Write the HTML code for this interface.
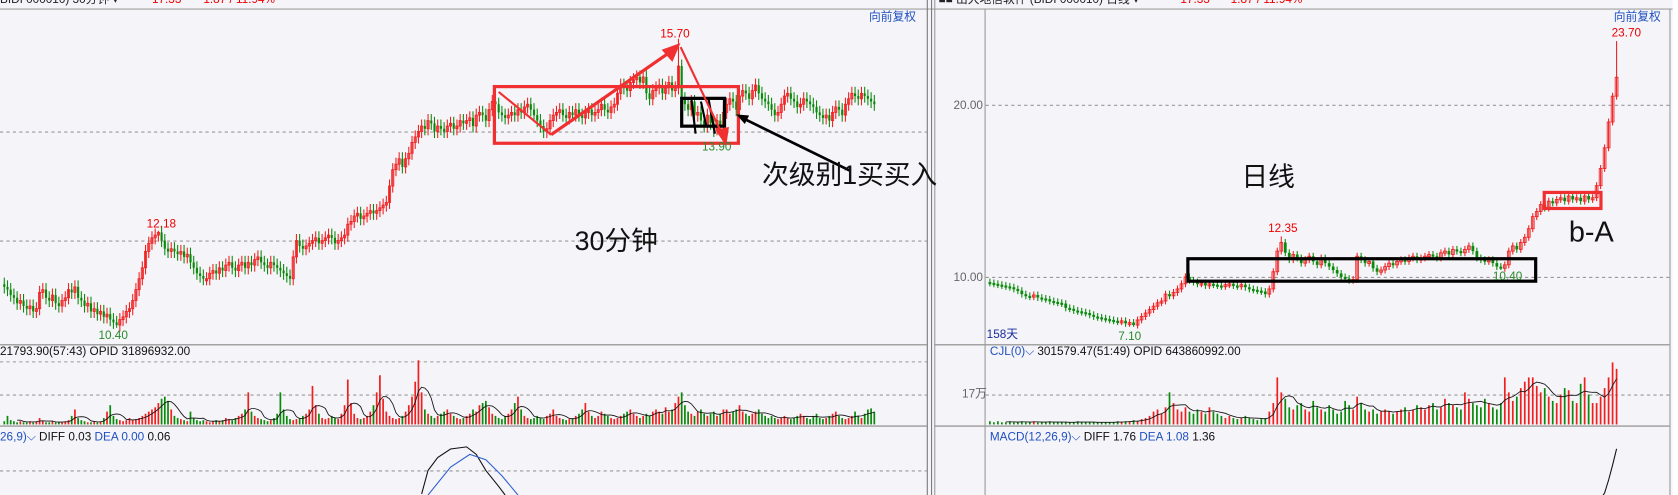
<!DOCTYPE html>
<html><head><meta charset="utf-8"><style>
html,body{margin:0;padding:0;background:#f4f4f9;}
svg{display:block;font-family:"Liberation Sans","Noto Sans CJK SC",sans-serif;}
</style></head><body>
<svg id="c" width="1678" height="495" viewBox="0 0 1568 463" preserveAspectRatio="none" xmlns="http://www.w3.org/2000/svg">
<rect x="0" y="0" width="1568" height="463" fill="#f4f4f9"/>
<g id="frame">
<line x1="0" y1="8.5" x2="1565" y2="8.5" stroke="#a0a0a0"/>
<line x1="0" y1="322.5" x2="866" y2="322.5" stroke="#888"/>
<line x1="0" y1="398.5" x2="866" y2="398.5" stroke="#888"/>
<line x1="873" y1="322.5" x2="1560" y2="322.5" stroke="#888"/>
<line x1="873" y1="398.5" x2="1560" y2="398.5" stroke="#888"/>
<line x1="866.5" y1="0" x2="866.5" y2="463" stroke="#777"/>
<line x1="870.5" y1="0" x2="870.5" y2="463" stroke="#777"/>
<line x1="873.5" y1="0" x2="873.5" y2="463" stroke="#999"/>
<line x1="920.5" y1="8" x2="920.5" y2="463" stroke="#999"/>
<line x1="1560.5" y1="8" x2="1560.5" y2="463" stroke="#999"/>
<rect x="1563" y="0" width="10" height="463" fill="#ffffff"/>
<g stroke="#999" stroke-dasharray="3,3">
<line x1="0" y1="123.5" x2="866" y2="123.5"/><line x1="0" y1="225.5" x2="866" y2="225.5"/>
<line x1="0" y1="338.5" x2="866" y2="338.5"/><line x1="0" y1="369.5" x2="866" y2="369.5"/>
<line x1="0" y1="440.5" x2="866" y2="440.5"/>
<line x1="921" y1="98.5" x2="1560" y2="98.5"/><line x1="921" y1="259.5" x2="1560" y2="259.5"/>
<line x1="921" y1="369.5" x2="1560" y2="369.5"/>
</g>
</g>
<g font-size="11">
<text x="0" y="3" fill="#222">BIDI 000010)  30分钟 ▾</text>
<text x="142" y="3" fill="#e00">17.33</text>
<text x="190" y="3" fill="#e00">1.87 / 11.94%</text>
<text x="877" y="3" fill="#222">■■ 出大地信软件  (BIDI 000010)  日线 ▾</text>
<text x="1103" y="3" fill="#e00">17.33</text>
<text x="1150" y="3" fill="#e00">1.87 / 11.94%</text>
<text x="812" y="19" fill="#2050c0">向前复权</text>
<text x="1508" y="19" fill="#2050c0">向前复权</text>
<text x="891" y="102" fill="#666">20.00</text>
<text x="891" y="263" fill="#666">10.00</text>
<text x="899" y="372" fill="#666">17万</text>
<text x="922" y="316" fill="#1a2a9a">158天</text>
<text x="0" y="332" fill="#111">21793.90(57:43)  OPID 31896932.00</text>
<text x="925" y="332" fill="#111"><tspan fill="#2050c0">CJL(0)⌵</tspan> 301579.47(51:49)  OPID 643860992.00</text>
<text x="0" y="412" fill="#111"><tspan fill="#2050c0">26,9)⌵</tspan>  DIFF 0.03  <tspan fill="#2050c0">DEA 0.00</tspan>   0.06</text>
<text x="925" y="412" fill="#111"><tspan fill="#2050c0">MACD(12,26,9)⌵</tspan>  DIFF 1.76  <tspan fill="#2050c0">DEA 1.08</tspan>   1.36</text>
</g>
<g id="left-candles"></g>
<g id="right-candles"></g>
<g id="ann">
<rect x="462" y="81" width="228" height="53" fill="none" stroke="#f03030" stroke-width="3"/>
<rect x="637" y="92" width="40" height="26" fill="none" stroke="#000" stroke-width="3"/>
<g stroke="#000" stroke-width="2" fill="none"><path d="M646 92 L650 125 M655 95 L660 118 M662 92 L668 125"/></g>
<g stroke="#f03030" stroke-width="2" fill="#f03030">
<line x1="466" y1="86" x2="515" y2="126"/>
<line x1="515" y1="126" x2="630" y2="46" stroke-width="3"/>
<polygon points="634,42 620,47 628,56"/>
<line x1="636" y1="44" x2="676" y2="128"/>
<polygon points="678,134 670,122 680,120"/>
</g>
<line x1="795" y1="160" x2="693" y2="110" stroke="#000" stroke-width="2.5"/>
<polygon points="688,107 700,108 696,116" fill="#000"/>
<rect x="1110" y="242" width="325" height="21" fill="none" stroke="#000" stroke-width="3"/>
<rect x="1443" y="180" width="53" height="15" fill="none" stroke="#f03030" stroke-width="3"/>
<text x="712" y="172" font-size="25" fill="#111">次级别1买买入</text>
<text x="537" y="234" font-size="25" fill="#111">30分钟</text>
<text x="1160" y="174" font-size="25" fill="#111">日线</text>
<text x="1466" y="226" font-size="27" fill="#111">b-A</text>
</g>
<g font-size="11">
<text x="617" y="35" fill="#e00">15.70</text>
<text x="137" y="213" fill="#e00">12.18</text>
<text x="92" y="317" fill="#2a8a2a">10.40</text>
<text x="656" y="141" fill="#2a8a2a">13.90</text>
<text x="1506" y="34" fill="#e00">23.70</text>
<text x="1185" y="217" fill="#e00">12.35</text>
<text x="1045" y="318" fill="#2a8a2a">7.10</text>
<text x="1395" y="262" fill="#2a8a2a">10.40</text>
</g>
</svg>
<script>
const leftCloses = [
11.15,11.1,11.0,10.95,10.85,10.9,10.8,10.75,10.8,10.7,
10.75,11.05,11.1,10.95,10.9,11.0,10.85,10.8,10.9,10.95,
11.1,11.05,11.15,10.95,10.9,10.8,10.85,10.7,10.75,10.65,
10.7,10.6,10.65,10.55,10.5,10.45,10.55,10.6,10.7,10.75,
10.9,11.1,11.3,11.5,11.8,11.95,12.05,12.1,12.15,12.0,
11.85,11.8,11.85,11.8,11.75,11.8,11.7,11.75,11.6,11.5,
11.4,11.35,11.3,11.3,11.4,11.45,11.4,11.5,11.45,11.55,
11.6,11.5,11.45,11.55,11.6,11.5,11.6,11.55,11.65,11.7,
11.6,11.55,11.5,11.6,11.55,11.5,11.45,11.4,11.35,11.3,
11.7,12.0,11.9,11.85,11.9,11.95,12.0,12.05,11.95,12.0,
12.05,12.1,12.05,11.95,12.0,12.05,12.1,12.3,12.35,12.45,
12.5,12.4,12.45,12.5,12.55,12.5,12.55,12.6,12.65,12.7,
13.0,13.3,13.4,13.5,13.35,13.5,13.6,13.8,13.9,14.0,
14.1,14.05,14.2,14.15,14.0,14.1,14.05,14.0,14.1,14.15,
14.05,14.1,14.2,14.15,14.2,14.25,14.1,14.3,14.35,14.3,
14.2,14.4,14.55,14.5,14.35,14.3,14.25,14.3,14.35,14.3,
14.4,14.35,14.45,14.5,14.4,14.3,14.2,14.1,14.0,14.05,
14.2,14.3,14.35,14.4,14.3,14.25,14.35,14.3,14.4,14.3,
14.25,14.35,14.4,14.3,14.35,14.4,14.5,14.4,14.35,14.45,
14.5,14.7,14.85,14.8,14.75,14.9,14.95,15.0,14.9,15.0,
14.7,14.6,14.75,14.8,14.85,14.7,14.8,14.9,14.75,14.8,
15.2,14.6,14.5,14.4,14.55,14.3,14.35,14.2,14.1,14.3,
14.15,14.05,14.2,14.1,14.35,14.5,14.6,14.55,14.4,14.65,
14.75,14.7,14.6,14.75,14.85,14.7,14.6,14.55,14.5,14.4,
14.3,14.35,14.5,14.65,14.7,14.6,14.55,14.45,14.5,14.6,
14.55,14.5,14.45,14.35,14.3,14.25,14.3,14.2,14.35,14.45,
14.4,14.3,14.5,14.6,14.7,14.65,14.6,14.7,14.65,14.6,
14.55,14.5];
const leftVolumes = [
3,8,4,3,2,3,2,2,3,2, 3,6,3,2,2,3,2,2,2,3, 4,8,14,6,4,3,2,2,3,2, 3,6,12,18,8,5,4,3,4,6,
4,5,6,8,10,12,14,16,20,24, 26,22,14,8,6,5,4,3,12,6, 4,3,4,3,2,3,4,3,4,6, 5,4,6,8,10,14,30,12,8,6,
5,4,3,4,6,10,30,14,8,5, 4,5,6,8,10,14,36,18,10,6, 5,6,8,6,5,10,18,42,20,10, 6,5,6,8,12,18,30,46,24,12,
8,6,5,6,8,12,18,26,40,60, 30,14,10,8,6,8,10,12,14,10, 8,6,5,6,8,10,14,12,18,20, 22,16,10,8,6,5,8,10,14,20,
26,14,8,6,5,6,8,6,5,8, 10,14,8,6,5,4,5,6,8,10, 14,20,12,8,6,8,12,10,8,6, 5,6,8,10,12,14,10,8,6,8,
10,8,12,14,12,10,16,12,14,20, 26,30,18,12,10,8,12,14,10,8, 10,12,8,10,14,14,10,12,14,18, 12,10,8,10,12,14,10,8,6,8,
6,5,6,8,6,5,6,8,10,8, 6,5,8,10,6,5,6,8,10,12, 8,6,5,6,8,12,8,6,10,14, 15,12];
const leftExtremeIdx = [210, 35, 48, 221];
const leftExtremeVal = [15.70, 10.40, 12.18, 13.90];
const leftMacdIdx = [130,132,135,139,144,147,150,154,156];
const leftMacdDiff = [-2.2,0,1.2,2.0,2.2,1.5,0,-1.5,-2.3];
const leftMacdDeaIdx = [132,139,145,150,155,160];
const leftMacdDea = [-2.3,0.3,1.5,1.0,-0.5,-2.3];

const rightCloses = [
9.65,9.6,9.55,9.5,9.45,9.4,9.3,9.2,9.0,8.9,
8.85,8.95,8.8,8.75,8.7,8.6,8.55,8.5,8.45,8.2,
8.15,8.05,8.0,7.95,7.9,7.8,7.7,7.65,7.6,7.55,
7.5,7.45,7.4,7.45,7.3,7.35,7.2,7.5,7.7,7.9,
8.1,8.3,8.5,8.6,9.0,8.9,9.1,9.3,9.6,10.0,
9.8,9.7,9.6,9.65,9.5,9.6,9.55,9.5,9.45,9.55,
9.6,9.5,9.45,9.55,9.4,9.3,9.25,9.2,9.15,9.0,
9.3,10.3,11.5,12.0,11.4,11.0,11.3,11.1,10.8,11.0,
11.2,10.9,10.7,11.1,10.8,10.6,10.4,10.2,10.0,9.9,
9.8,9.85,11.2,11.0,10.8,10.9,10.5,10.3,10.4,10.6,
10.8,10.7,10.9,11.0,10.9,11.1,11.2,11.0,11.1,11.2,
11.3,11.2,11.1,11.4,11.5,11.3,11.6,11.5,11.4,11.6,
11.8,11.5,11.1,11.0,10.9,11.0,10.8,10.6,10.5,10.7,
11.5,11.8,11.6,12.0,12.3,12.8,13.5,13.8,14.2,14.0,
14.4,14.3,14.5,14.6,14.4,14.7,14.5,14.6,14.4,14.7,
14.5,14.6,15.3,16.3,17.5,19.0,20.5,21.6];
const rightVolumes = [
3,2,3,2,2,3,2,2,3,2, 2,3,2,2,2,3,2,2,2,2, 2,2,3,2,2,2,2,2,2,2, 2,2,3,2,3,3,4,3,5,6,
8,12,14,10,16,30,20,14,12,16, 12,10,14,12,10,16,12,10,8,6, 8,6,5,6,8,6,5,4,5,6, 12,20,44,30,24,16,14,18,20,14,
12,22,16,14,12,18,14,10,12,22, 18,14,26,20,14,12,14,10,12,14, 12,10,12,14,16,12,14,18,16,14, 18,20,14,16,24,20,18,16,14,30,
24,20,18,16,24,20,16,14,20,44, 30,22,26,34,40,44,44,36,30,34, 26,22,20,28,34,32,22,20,38,44, 28,20,20,26,34,44,58,52];
const rightExtremeIdx = [157, 36, 73, 128];
const rightExtremeVal = [23.70, 7.10, 12.35, 10.40];
const rightMacdIdx = [153,154,155,156,157];
const rightMacdDiff = [-0.6,-0.3,0.3,1.0,1.76];

const NS = "http://www.w3.org/2000/svg";
function mk(tag, attrs, parent){ const e=document.createElementNS(NS,tag); for(const k in attrs) e.setAttribute(k,attrs[k]); parent.appendChild(e); return e; }
const xL = i => 4 + i*3;
const yL = p => 123 + (14 - p)*51;
const xR = i => 925 + i*3.73;
const yR = p => 98 + (20 - p)*16.1;
const yVol = v => 397 - v;
const yMacdL = v => 440 - v*10;
const yMacdR = v => 455 - v*20;
const RED="#f02020", GREEN="#0a8a0a";

function drawCandles(g, closes, xf, yf, w, exIdx, exVal, firstOpen, wk){
  for(let i=0;i<closes.length;i++){
    const o = i===0 ? firstOpen : closes[i-1];
    const c = closes[i];
    let hi = Math.max(o,c)+wk, lo = Math.min(o,c)-wk;
    const k = exIdx.indexOf(i);
    if(k>=0){ if(exVal[k]>Math.max(o,c)) hi=exVal[k]; else lo=exVal[k]; }
    const up = c>=o, col = up?RED:GREEN, x=xf(i);
    const wick = mk('line',{x1:x,x2:x,y1:yf(hi),y2:yf(lo),stroke:col,'stroke-width':1},g);
    
    
    const top=yf(Math.max(o,c)), h=Math.max(2,yf(Math.min(o,c))-top);
    const body = mk('rect',{x:x-w/2,y:top,width:w,height:h,fill:up?'none':col,stroke:col,'stroke-width':up?0.8:0},g);
    
    
  }
}
function drawVolumes(g, closes, vols, xf, firstOpen){
  for(let i=0;i<vols.length;i++){
    const o = i===0 ? firstOpen : closes[i-1];
    const col = closes[i]>=o?RED:GREEN;
    const b = mk('line',{x1:xf(i),x2:xf(i),y1:397,y2:yVol(vols[i]),stroke:col,'stroke-width':1.6},g);
    
    
  }
  let pts=[];
  for(let i=4;i<vols.length;i++){ let s=0; for(let j=i-4;j<=i;j++) s+=vols[j]; pts.push(xf(i)+','+yVol(s/5)); }
  const ma = mk('polyline',{points:pts.join(' '),fill:'none',stroke:'#111','stroke-width':0.8},g);
  
  
}
const gl=document.getElementById('left-candles'), gr=document.getElementById('right-candles');
drawCandles(gl, leftCloses, xL, yL, 2, leftExtremeIdx, leftExtremeVal, 11.2, 0.12);
drawVolumes(gl, leftCloses, leftVolumes, xL, 11.2);
drawCandles(gr, rightCloses, xR, yR, 2.6, rightExtremeIdx, rightExtremeVal, 9.7, 0.2);
drawVolumes(gr, rightCloses, rightVolumes, xR, 9.7);

const clip = mk('clipPath',{id:'mc'},document.getElementById('c'));
mk('rect',{x:0,y:399,width:1560,height:64},clip);
const d1 = mk('polyline',{points:leftMacdIdx.map((v,i)=>xL(v)+','+yMacdL(leftMacdDiff[i])).join(' '),fill:'none',stroke:'#111','clip-path':'url(#mc)'},gl);


const d2 = mk('polyline',{points:leftMacdDeaIdx.map((v,i)=>xL(v)+','+yMacdL(leftMacdDea[i])).join(' '),fill:'none',stroke:'#3060d0','clip-path':'url(#mc)'},gl);


const d3 = mk('polyline',{points:rightMacdIdx.map((v,i)=>xR(v)+','+yMacdR(rightMacdDiff[i])).join(' '),fill:'none',stroke:'#111','clip-path':'url(#mc)'},gr);


</script>
</body></html>
